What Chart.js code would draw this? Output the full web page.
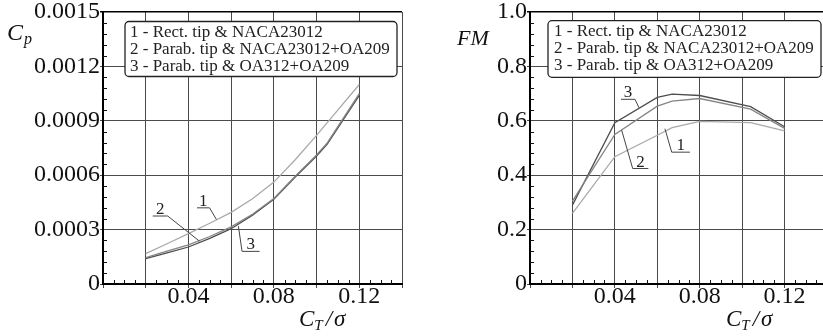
<!DOCTYPE html>
<html><head><meta charset="utf-8">
<script src="https://cdn.jsdelivr.net/npm/chart.js@4.4.1/dist/chart.umd.min.js"></script>
<style>
html,body{margin:0;padding:0;background:#fff;overflow:hidden;width:823px;height:336px;}
.box{position:absolute;top:0;height:336px;}
#b1{left:0;width:410px;}
#b2{left:420px;width:420px;}
</style></head><body>
<div class="box" id="b1"><canvas id="c1"></canvas></div>
<div class="box" id="b2"><canvas id="c2"></canvas></div>
<script>
// ---- data ----
const legendLabels = ["1 - Rect. tip & NACA23012", "2 - Parab. tip & NACA23012+OA209", "3 - Parab. tip & OA312+OA209"];
const ctCp = [0.02, 0.03, 0.04, 0.05, 0.06, 0.07, 0.08, 0.09, 0.10, 0.105, 0.12];
const cp1 = [0.000168, 0.000222, 0.000278, 0.000335, 0.000395, 0.000470, 0.000562, 0.000685, 0.000820, 0.000890, 0.001100];
const cp2 = [0.000145, 0.000181, 0.000216, 0.000262, 0.000315, 0.000385, 0.000472, 0.000595, 0.000712, 0.000778, 0.001050];
const cp3 = [0.000140, 0.000172, 0.000204, 0.000252, 0.000305, 0.000380, 0.000468, 0.000590, 0.000706, 0.000771, 0.001040];
const ctFm = [0.02, 0.04, 0.06, 0.067, 0.08, 0.104, 0.12];
const fm1 = [0.26, 0.468, 0.547, 0.575, 0.598, 0.593, 0.563];
const fm2 = [0.305, 0.55, 0.654, 0.672, 0.682, 0.643, 0.572];
const fm3 = [0.29, 0.593, 0.686, 0.698, 0.693, 0.652, 0.578];
const xTickLabels = ["0.04", "0.08", "0.12"];

const seriesColors = ['#a9a9a9', '#858585', '#4d4d4d'];
const SERIF = '"Liberation Serif", "DejaVu Serif", serif';

function pts(xs, ys){ return xs.map((x,i)=>({x:x, y:ys[i]})); }

// minor ticks + legend + annotations + axis titles
const decor = {
  id:'decor',
  afterDraw(chart, args, o){
    const ctx = chart.ctx, a = chart.chartArea, xs = chart.scales.x, ys = chart.scales.y;
    ctx.save();
    // minor ticks
    ctx.strokeStyle = '#111'; ctx.lineWidth = 1;
    ctx.beginPath();
    const xm = o.xMinor;
    for (let k = 1; k * xm < xs.max - 1e-12; k++) {
      if (k % 4 === 0) continue;
      const px = Math.round(xs.getPixelForValue(k * xm)) + 0.5;
      ctx.moveTo(px, a.bottom); ctx.lineTo(px, a.bottom - 4);
    }
    const ym = o.yMinor;
    for (let k = 1; k * ym < ys.max - 1e-12; k++) {
      if (k % 5 === 0) continue;
      const py = Math.round(ys.getPixelForValue(k * ym)) + 0.5;
      ctx.moveTo(a.left, py); ctx.lineTo(a.left + 4, py);
    }
    ctx.stroke();

    // annotations
    ctx.strokeStyle = '#444'; ctx.fillStyle = '#222'; ctx.lineWidth = 1;
    ctx.font = '17px ' + SERIF; ctx.textAlign = 'center'; ctx.textBaseline = 'alphabetic';
    o.notes.forEach(n => {
      const x1 = xs.getPixelForValue(n.u[0]), x2 = xs.getPixelForValue(n.u[1]), y = ys.getPixelForValue(n.u[2]);
      const ex = xs.getPixelForValue(n.end[0]), ey = ys.getPixelForValue(n.end[1]);
      const sx = n.fromRight ? x2 : x1;
      ctx.beginPath();
      ctx.moveTo(x1, y); ctx.lineTo(x2, y);
      ctx.moveTo(sx, y); ctx.lineTo(ex, ey);
      ctx.stroke();
      ctx.fillText(n.t, (x1 + x2) / 2 + (n.dx||0), y - 2);
    });

    // legend box
    const L = o.legend;
    ctx.fillStyle = '#fff'; ctx.strokeStyle = '#222'; ctx.lineWidth = 1.3;
    ctx.beginPath(); ctx.roundRect(L.x, L.y, L.w, L.h, 4); ctx.fill(); ctx.stroke();
    ctx.fillStyle = '#222'; ctx.font = '17px ' + SERIF; ctx.textAlign = 'left'; ctx.textBaseline = 'middle';
    legendLabels.forEach((s, i) => ctx.fillText(s, L.x + L.tx, L.y + 11 + i * 17));

    // y title
    ctx.fillStyle = '#111'; ctx.textBaseline = 'alphabetic';
    const T = o.ytitle;
    ctx.font = 'italic ' + T.size + 'px ' + SERIF;
    ctx.fillText(T.main, a.left + T.dx, T.y);
    if (T.sub) {
      const w = ctx.measureText(T.main).width;
      ctx.font = 'italic 16px ' + SERIF;
      ctx.fillText(T.sub, a.left + T.dx + w + 1, T.y + 4);
    }
    // x title C_T / sigma
    let x = a.left + 196; const by = 326;
    ctx.font = 'italic 23px ' + SERIF; ctx.fillText('C', x, by); x += ctx.measureText('C').width;
    ctx.font = 'italic 15px ' + SERIF; ctx.fillText('T', x, by + 4); x += ctx.measureText('T').width + 3;
    ctx.font = 'italic 23px ' + SERIF; ctx.fillText('/', x, by); x += ctx.measureText('/').width + 2;
    ctx.fillText('σ', x, by);
    ctx.restore();
  }
};
Chart.register(decor);

function makeChart(id, xsArr, ys, yMax, yStep, yFmt, yAxisW, padRight, decorOpts){
  const datasets = ys.map((arr, i) => ({
    data: pts(xsArr, arr), borderColor: seriesColors[i], borderWidth: 1.3,
    pointRadius: 0, tension: 0, fill: false
  }));
  return new Chart(document.getElementById(id), {
    type: 'line',
    data: { datasets },
    options: {
      responsive: true, maintainAspectRatio: false, animation: false,
      layout: { padding: { top: 12, right: padRight, left: 0, bottom: 0 } },
      plugins: { legend: { display: false }, tooltip: { enabled: false }, decor: decorOpts },
      scales: {
        x: {
          type: 'linear', min: 0, max: 0.14,
          ticks: {
            stepSize: 0.02, autoSkip: false, maxRotation: 0, padding: -3,
            color: '#111', font: { family: SERIF, size: 24, lineHeight: 1 },
            callback: v => { const k = Math.round(v / 0.02); return (k === 2 || k === 4 || k === 6) ? xTickLabels[k / 2 - 1] : ''; }
          },
          grid: { color: '#4a4a4a', lineWidth: 1, tickLength: 4 },
          border: { color: '#000', width: 2 },
          afterFit: s => { s.height = 52; s.paddingLeft = 0; s.paddingRight = 0; }
        },
        y: {
          min: 0, max: yMax,
          ticks: {
            stepSize: yStep, padding: 0, color: '#111',
            font: { family: SERIF, size: 24, lineHeight: 1 },
            callback: yFmt
          },
          grid: {
            tickLength: 3,
            color: c => (c.tick && Math.abs(c.tick.value - yMax) < yStep / 10) ? '#000' : '#4a4a4a',
            lineWidth: c => (c.tick && Math.abs(c.tick.value - yMax) < yStep / 10) ? 1.6 : 1
          },
          border: { color: '#000', width: 2 },
          afterFit: s => { s.width = yAxisW; s.paddingTop = 0; s.paddingBottom = 0; }
        }
      }
    }
  });
}

makeChart('c1', ctCp, [cp1, cp2, cp3], 0.0015, 0.0003,
  v => Math.abs(v) < 1e-9 ? '0' : v.toFixed(4), 103, 8,
  { xMinor: 0.005, yMinor: 0.00006,
    legend: { x: 125, y: 21.5, w: 272, h: 55, tx: 5 },
    ytitle: { main: 'C', sub: 'p', dx: -96, y: 40, size: 24 },
    notes: [
      { t: '1', u: [0.0440, 0.0499, 0.000420], end: [0.0531, 0.000356], fromRight: true },
      { t: '2', u: [0.0233, 0.0303, 0.000375], end: [0.0452, 0.000236], fromRight: true },
      { t: '3', u: [0.0651, 0.0733, 0.000180], end: [0.0634, 0.000319], fromRight: false }
    ] });

makeChart('c2', ctFm, [fm1, fm2, fm3], 1.0, 0.2,
  v => Math.abs(v) < 1e-9 ? '0' : v.toFixed(1), 110, 13,
  { xMinor: 0.005, yMinor: 0.04,
    legend: { x: 128, y: 20.7, w: 273, h: 56.6, tx: 6 },
    ytitle: { main: 'FM', sub: '', dx: -73, y: 45, size: 22 },
    notes: [
      { t: '3', u: [0.0429, 0.0495, 0.679], end: [0.0514, 0.648], fromRight: true },
      { t: '2', u: [0.0484, 0.0558, 0.4246], end: [0.0432, 0.5657], fromRight: false },
      { t: '1', u: [0.0668, 0.0754, 0.4847], end: [0.0636, 0.571], fromRight: false }
    ] });
</script>
</body></html>
